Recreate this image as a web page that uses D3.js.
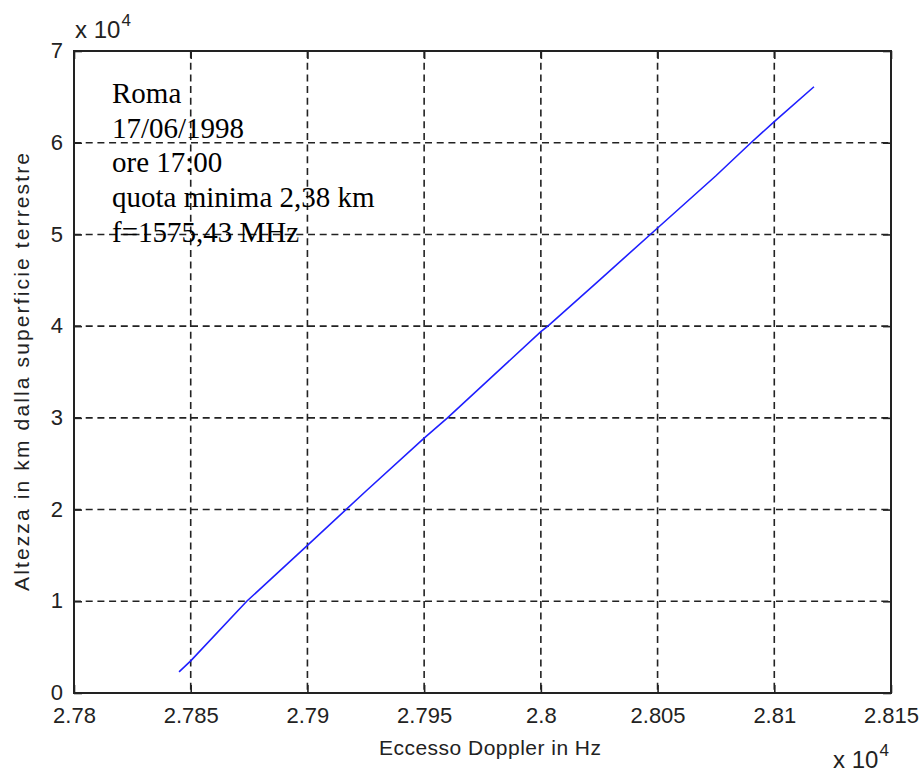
<!DOCTYPE html>
<html>
<head>
<meta charset="utf-8">
<script src="https://cdn.jsdelivr.net/npm/d3@7"></script>
<style>
  body { margin:0; background:#fff; }
  svg { display:block; }
</style>
</head>
<body>
<svg id="main_view_svg" width="922" height="774"></svg>
<script>
// DATA

var doppler_hz = [27845, 27850, 27874, 27900, 27925, 27950, 27960, 28000, 28003, 28025, 28050, 28075, 28090, 28100, 28117];
var altezza_km = [2300, 3500, 10000, 16100, 22000, 27800, 30000, 39400, 40000, 45000, 50700, 56400, 60000, 62300, 66100];
var x_ticks = [27800, 27850, 27900, 27950, 28000, 28050, 28100, 28150];
var x_tick_labels = ["2.78", "2.785", "2.79", "2.795", "2.8", "2.805", "2.81", "2.815"];
var y_ticks = [0, 10000, 20000, 30000, 40000, 50000, 60000, 70000];
var y_tick_labels = ["0", "1", "2", "3", "4", "5", "6", "7"];
var note_lines = ["Roma", "17/06/1998", "ore 17:00", "quota minima 2,38 km", "f=1575,43 MHz"];

// RENDERING

var graph_margin = {left:74, right:31, top:51, bottom:81};
var svg = d3.select('#main_view_svg');
var w = 922 - graph_margin.left - graph_margin.right;
var h = 774 - graph_margin.top - graph_margin.bottom;

var x = d3.scaleLinear().domain([27800, 28150]).range([0, w]);
var y = d3.scaleLinear().domain([0, 70000]).range([h, 0]);

var g = svg.append('g')
  .attr('transform','translate('+graph_margin.left+','+graph_margin.top+')');

var tick_font = 'Liberation Sans, Arial, sans-serif';

// grid
g.selectAll('.vgrid').data(x_ticks.slice(1, -1)).enter()
  .append('line')
    .attr('class','vgrid')
    .attr('x1', function(d){ return x(d); })
    .attr('x2', function(d){ return x(d); })
    .attr('y1', 0).attr('y2', h)
    .attr('stroke','#222')
    .attr('stroke-width',1.6)
    .attr('stroke-dasharray','7,4.7');

g.selectAll('.hgrid').data(y_ticks.slice(1, -1)).enter()
  .append('line')
    .attr('class','hgrid')
    .attr('y1', function(d){ return y(d); })
    .attr('y2', function(d){ return y(d); })
    .attr('x1', 0).attr('x2', w)
    .attr('stroke','#222')
    .attr('stroke-width',1.6)
    .attr('stroke-dasharray','7,4.7');

// axes (inward ticks, matlab style)
var x_axis = d3.axisBottom(x).tickValues(x_ticks).tickSize(-8).tickPadding(19)
  .tickFormat(function(d,i){ return x_tick_labels[i]; });
var y_axis = d3.axisLeft(y).tickValues(y_ticks).tickSize(-8).tickPadding(11)
  .tickFormat(function(d,i){ return y_tick_labels[i]; });

var gx = g.append('g').attr('transform','translate(0,'+h+')').call(x_axis);
var gy = g.append('g').call(y_axis);
g.append('g').call(d3.axisTop(x).tickValues(x_ticks).tickSize(-8).tickFormat(''));
g.append('g').attr('transform','translate('+w+',0)').call(d3.axisRight(y).tickValues(y_ticks).tickSize(-8).tickFormat(''));

g.selectAll('.domain').remove();
g.selectAll('.tick line').attr('stroke','#222').attr('stroke-width',1.6);
g.selectAll('.tick text')
  .attr('fill','#222')
  .style('font-family', tick_font)
  .style('font-size','22px');
gx.selectAll('.tick text').attr('dy','0.5em');
gy.selectAll('.tick text').attr('dy','0.3em');

g.append('rect')
  .attr('width', w).attr('height', h)
  .attr('fill','none')
  .attr('stroke','#222')
  .attr('stroke-width',2);

// line
var pts = doppler_hz.map(function(d,i){ return [d, altezza_km[i]]; });
g.append('path')
  .datum(pts)
  .attr('d', d3.line().x(function(d){ return x(d[0]); }).y(function(d){ return y(d[1]); }))
  .attr('fill','none')
  .attr('stroke','#1f1fff')
  .attr('stroke-width',1.6);

// note
var note = g.append('text')
  .attr('x', 38)
  .attr('y', 52)
  .style('font-family','Liberation Serif, Times New Roman, serif')
  .style('font-size','29px')
  .attr('fill','#000');
note.selectAll('tspan').data(note_lines).enter()
  .append('tspan')
    .attr('x', 38)
    .attr('dy', function(d,i){ return i === 0 ? 0 : 34.7; })
    .text(function(d){ return d; });

// exponent labels
function exp_label(px, py){
  var t = svg.append('text')
    .attr('x', px).attr('y', py)
    .attr('fill','#222')
    .style('font-family', tick_font)
    .style('font-size','24px');
  t.append('tspan').text('x 10');
  t.append('tspan').attr('dx',1).attr('dy',-12).style('font-size','17px').text('4');
}
exp_label(75, 38);
exp_label(833, 768);

// axis titles
svg.append('text')
  .attr('x', 490)
  .attr('y', 755)
  .attr('text-anchor','middle')
  .attr('fill','#222')
  .style('font-family', tick_font)
  .style('font-size','21px')
  .attr('textLength', 222)
  .text('Eccesso Doppler in Hz');

svg.append('text')
  .attr('transform','translate(29,'+(graph_margin.top + h/2)+') rotate(-90)')
  .attr('text-anchor','middle')
  .attr('fill','#222')
  .style('font-family', tick_font)
  .style('font-size','21px')
  .attr('textLength', 438)
  .text('Altezza in km dalla superficie terrestre');
</script>
</body>
</html>
